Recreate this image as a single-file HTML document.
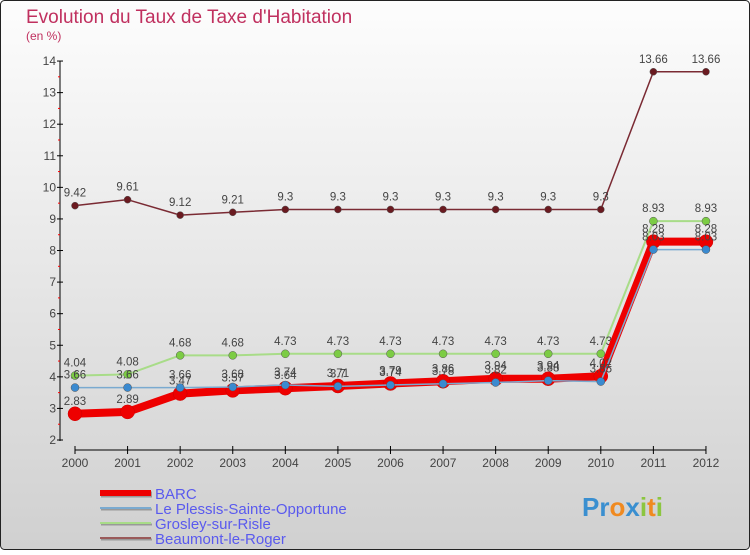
<!DOCTYPE html>
<html><head><meta charset="utf-8"><style>
html,body{margin:0;padding:0}
body{width:750px;height:550px;overflow:hidden;font-family:"Liberation Sans",sans-serif}
</style></head><body>
<svg id="chart" width="750" height="550" xmlns="http://www.w3.org/2000/svg">
<defs><linearGradient id="bg" x1="0" y1="0" x2="0" y2="1"><stop offset="0" stop-color="#fdfdfd"/><stop offset="1" stop-color="#d0d0d0"/></linearGradient></defs>
<rect x="0.5" y="0.5" width="749" height="549" rx="4" fill="url(#bg)" stroke="#222"/>
<text x="26" y="23" font-size="19" fill="#c0305f">Evolution du Taux de Taxe d'Habitation</text>
<text x="26" y="40" font-size="12" fill="#c0305f">(en %)</text>
<g id="axes"></g><g id="series"></g><g id="legend"></g>
<text x="582" y="516" font-size="26" font-weight="bold"><tspan fill="#3a8fd0">Pr</tspan><tspan fill="#f08a20">o</tspan><tspan fill="#3a8fd0">x</tspan><tspan fill="#8cc640">i</tspan><tspan fill="#f08a20">t</tspan><tspan fill="#8cc640">i</tspan></text>
</svg>
<script>
const years=[2000,2001,2002,2003,2004,2005,2006,2007,2008,2009,2010,2011,2012];
const yTicks=[2,3,4,5,6,7,8,9,10,11,12,13,14];
const barc=[2.83,2.89,3.47,3.57,3.64,3.71,3.79,3.86,3.94,3.94,4.02,8.28,8.28];
const plessis=[3.66,3.66,3.66,3.68,3.74,3.7,3.74,3.78,3.82,3.88,3.85,8.03,8.03];
const grosley=[4.04,4.08,4.68,4.68,4.73,4.73,4.73,4.73,4.73,4.73,4.73,8.93,8.93];
const beaumont=[9.42,9.61,9.12,9.21,9.3,9.3,9.3,9.3,9.3,9.3,9.3,13.66,13.66];
const NS="http://www.w3.org/2000/svg";
const X=i=>75+i*52.58, Y=v=>440-(v-2)*31.58;
function mk(p,t,a){const e=document.createElementNS(NS,t);for(const k in a)e.setAttribute(k,a[k]);p.appendChild(e);return e;}
const ax=document.getElementById('axes');
const ya=mk(ax,'line',{x1:60,y1:Y(14),x2:60,y2:Y(2)+1,stroke:'#000'});


yTicks.forEach(t=>{
 mk(ax,'line',{x1:57,x2:63,y1:Y(t),y2:Y(t),stroke:'#000'});
 if(t<14)mk(ax,'line',{x1:58,x2:60,y1:Y(t+0.5),y2:Y(t+0.5),stroke:'#f00'});
 const l=mk(ax,'text',{x:56,y:Y(t)+4,'font-size':12,fill:'#444','text-anchor':'end'});l.textContent=t;
 
 
});
const xa=mk(ax,'line',{x1:X(0),x2:X(12),y1:450,y2:450,stroke:'#000'});


years.forEach((y,i)=>{
 mk(ax,'line',{x1:X(i),x2:X(i),y1:446,y2:454,stroke:'#000'});
 const l=mk(ax,'text',{x:X(i),y:467,'font-size':12,fill:'#444','text-anchor':'middle'});l.textContent=y;
 
 
});
const sg=document.getElementById('series');
const series=[
 {n:'Beaumont-le-Roger',d:beaumont,c:'#7a2a33',f:'#6a1a20',w:1.5,r:3.5},
 {n:'Grosley-sur-Risle',d:grosley,c:'#a8dc88',f:'#7ccc44',w:2,r:4},
 {n:'BARC',d:barc,c:'#ee0000',f:'#ee0000',w:8,r:7},
 {n:'Le Plessis-Sainte-Opportune',d:plessis,c:'#7aaad0',f:'#3a8ad0',w:1.5,r:4}
];
series.forEach(s=>{
 const g=mk(sg,'g',{});
 
 
 const ln=mk(g,'polyline',{points:s.d.map((v,i)=>X(i)+','+Y(v)).join(' '),fill:'none',stroke:s.c,'stroke-width':s.w,'stroke-linejoin':'round'});
 
 
 s.d.forEach((v,i)=>{
  const p=mk(g,'circle',{cx:X(i),cy:Y(v),r:s.r,fill:s.f,stroke:s.n=='BARC'?'#c00':'#555','stroke-width':0.5});
  
  
  const t=mk(g,'text',{x:X(i),y:Y(v)-9,'font-size':11.5,fill:'#444','text-anchor':'middle'});t.textContent=v;
  
  
 });
});
const lg=document.getElementById('legend');
const leg=[['BARC','#ee0000',6],['Le Plessis-Sainte-Opportune','#7aaad0',2],['Grosley-sur-Risle','#a8dc88',2],['Beaumont-le-Roger','#9a5a5a',2]];
leg.forEach((e,i)=>{
 const y=493+i*15;
 const g=mk(lg,'g',{});
 
 
 mk(g,'line',{x1:101,x2:152,y1:y+1.5,y2:y+1.5,stroke:'#999','stroke-width':e[2]});
 mk(g,'line',{x1:100,x2:151,y1:y,y2:y,stroke:e[1],'stroke-width':e[2]});
 const t=mk(g,'text',{x:155,y:y+6,'font-size':15,fill:'#5a5aee'});t.textContent=e[0];
});
</script>
</body></html>
